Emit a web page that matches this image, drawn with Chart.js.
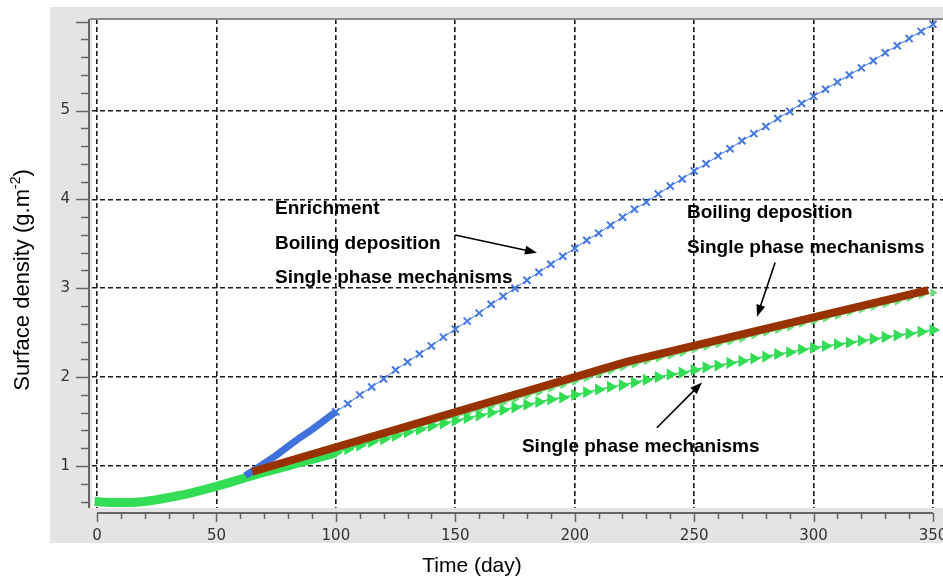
<!DOCTYPE html>
<html>
<head>
<meta charset="utf-8">
<script src="https://cdn.jsdelivr.net/npm/chart.js@4.4.0/dist/chart.umd.min.js"></script>
<style>
  body { margin: 0; overflow: hidden; background: #fff; }
  canvas { display: block; }
</style>
</head>
<body>
<canvas id="grafico" width="980" height="579"></canvas>
<script>
// eixos
const xTicks = [0, 50, 100, 150, 200, 250, 300, 350];
const yTicks = [1, 2, 3, 4, 5];

// parte densa das curvas (passos de tempo curtos)
const greenBandDays = [-1, 5, 10, 15, 20, 25, 30, 35, 40, 45, 50, 55, 60, 65, 70, 75, 80, 85, 90, 95, 100];
const singleBandValues = [0.60, 0.59, 0.59, 0.59, 0.60, 0.62, 0.645, 0.67, 0.70, 0.735, 0.77, 0.81, 0.85, 0.89, 0.93, 0.965, 1.00, 1.04, 1.075, 1.11, 1.15];

const blueBandDays = [62, 65, 70, 75, 80, 85, 90, 95, 100];
const enrichBandValues = [0.89, 0.94, 1.03, 1.12, 1.22, 1.32, 1.41, 1.51, 1.61];

// parte com marcadores (a cada 5 dias)
const markDays = [100, 105, 110, 115, 120, 125, 130, 135, 140, 145, 150, 155, 160, 165, 170, 175, 180, 185, 190, 195,
  200, 205, 210, 215, 220, 225, 230, 235, 240, 245, 250, 255, 260, 265, 270, 275, 280, 285, 290, 295,
  300, 305, 310, 315, 320, 325, 330, 335, 340, 345, 350];

const enrichValues = [1.61, 1.70, 1.80, 1.89, 1.98, 2.08, 2.17, 2.26, 2.35, 2.45, 2.54, 2.63, 2.72, 2.82, 2.91, 3.00, 3.09, 3.18, 3.27, 3.36,
  3.45, 3.54, 3.62, 3.71, 3.80, 3.89, 3.97, 4.06, 4.15, 4.23, 4.32, 4.40, 4.49, 4.57, 4.66, 4.74, 4.82, 4.91, 4.99, 5.08,
  5.16, 5.24, 5.32, 5.40, 5.48, 5.56, 5.65, 5.73, 5.81, 5.89, 5.97];

const boilingValues = [1.16, 1.20, 1.24, 1.28, 1.32, 1.36, 1.40, 1.44, 1.48, 1.52, 1.55, 1.59, 1.63, 1.67, 1.71, 1.75, 1.79, 1.83, 1.87, 1.91,
  1.95, 1.99, 2.03, 2.07, 2.11, 2.14, 2.18, 2.21, 2.24, 2.27, 2.31, 2.34, 2.37, 2.40, 2.43, 2.47, 2.50, 2.53, 2.56, 2.60,
  2.63, 2.66, 2.69, 2.73, 2.76, 2.79, 2.82, 2.85, 2.89, 2.92, 2.95];

const singleValues = [1.15, 1.19, 1.23, 1.27, 1.30, 1.34, 1.38, 1.41, 1.45, 1.48, 1.51, 1.54, 1.57, 1.60, 1.63, 1.66, 1.69, 1.72, 1.75, 1.77,
  1.80, 1.83, 1.86, 1.89, 1.91, 1.94, 1.97, 2.00, 2.03, 2.05, 2.08, 2.11, 2.13, 2.16, 2.18, 2.21, 2.23, 2.26, 2.28, 2.31,
  2.33, 2.35, 2.37, 2.39, 2.41, 2.43, 2.45, 2.47, 2.49, 2.51, 2.53];

// reta de ajuste marrom
const fitDays = [65, 222, 348];
const fitValues = [0.935, 2.175, 2.98];

const pares = (xs, ys) => xs.map((x, i) => ({ x: x, y: ys[i] }));

// textos e setas em coordenadas dos dados
const textos = [
  { x: 74.5, y: 3.83, t: 'Enrichment' },
  { x: 74.5, y: 3.445, t: 'Boiling deposition' },
  { x: 74.5, y: 3.06, t: 'Single phase mechanisms' },
  { x: 247, y: 3.79, t: 'Boiling deposition' },
  { x: 247, y: 3.40, t: 'Single phase mechanisms' },
  { x: 177.9, y: 1.16, t: 'Single phase mechanisms' }
];
const setas = [
  { x1: 149.9, y1: 3.60, x2: 184.2, y2: 3.40 },
  { x1: 283.9, y1: 3.29, x2: 276.3, y2: 2.68 },
  { x1: 234.4, y1: 1.43, x2: 253.3, y2: 1.94 }
];

const moldura = {
  id: 'moldura',
  beforeDraw(chart) {
    const ctx = chart.ctx;
    const a = chart.chartArea;
    ctx.save();
    ctx.fillStyle = '#ffffff';
    ctx.fillRect(0, 0, chart.width, chart.height);
    ctx.fillStyle = '#e4e4e4';
    ctx.fillRect(50, 7, chart.width - 50, 536);
    ctx.fillStyle = '#ffffff';
    ctx.fillRect(a.left, a.top, a.right - a.left, a.bottom - a.top);
    ctx.restore();
  },
  afterDraw(chart) {
    const ctx = chart.ctx;
    const a = chart.chartArea;
    const sx = chart.scales.x;
    const sy = chart.scales.y;
    ctx.save();
    // bordas e eixos
    ctx.strokeStyle = '#8a8a8a';
    ctx.lineWidth = 2;
    ctx.beginPath();
    ctx.moveTo(a.left - 2, a.top);
    ctx.lineTo(chart.width, a.top);
    ctx.stroke();
    ctx.strokeStyle = '#666';
    ctx.lineWidth = 2;
    ctx.beginPath();
    ctx.moveTo(a.left - 3, a.top);
    ctx.lineTo(a.left - 3, a.bottom);
    ctx.stroke();
    const yEixo = a.bottom + 5;
    ctx.beginPath();
    ctx.moveTo(sx.getPixelForValue(0), yEixo);
    ctx.lineTo(sx.getPixelForValue(350), yEixo);
    ctx.stroke();
    // marcas do eixo x
    ctx.lineWidth = 1.5;
    for (let v = 0; v <= 350; v += 10) {
      const px = Math.round(sx.getPixelForValue(v)) + 0.5;
      const len = v % 50 === 0 ? 9 : 6;
      ctx.beginPath();
      ctx.moveTo(px, yEixo);
      ctx.lineTo(px, yEixo + len);
      ctx.stroke();
    }
    // marcas do eixo y
    for (let k = 3; k <= 30; k++) {
      const v = k / 5;
      const py = Math.round(sy.getPixelForValue(v)) + 0.5;
      const len = k % 5 === 0 ? 13 : 8;
      ctx.beginPath();
      ctx.moveTo(a.left - 3, py);
      ctx.lineTo(a.left - 3 - len, py);
      ctx.stroke();
    }
    // titulos
    ctx.fillStyle = '#000';
    ctx.font = '21px "Liberation Sans", Arial, sans-serif';
    ctx.textAlign = 'center';
    ctx.textBaseline = 'middle';
    ctx.fillText('Time (day)', 472, 566);

    ctx.translate(23, 280);
    ctx.rotate(-Math.PI / 2);
    ctx.textAlign = 'left';
    const p1 = 'Surface density (g.m', p2 = '-2', p3 = ')';
    ctx.font = '22px "Liberation Sans", Arial, sans-serif';
    const w1 = ctx.measureText(p1).width, w3 = ctx.measureText(p3).width;
    ctx.font = '14px "Liberation Sans", Arial, sans-serif';
    const w2 = ctx.measureText(p2).width;
    let x0 = -(w1 + w2 + w3) / 2;
    ctx.font = '22px "Liberation Sans", Arial, sans-serif';
    ctx.fillText(p1, x0, 0);
    ctx.font = '14px "Liberation Sans", Arial, sans-serif';
    ctx.fillText(p2, x0 + w1, -7);
    ctx.font = '22px "Liberation Sans", Arial, sans-serif';
    ctx.fillText(p3, x0 + w1 + w2, 0);
    ctx.restore();

    // anotacoes
    ctx.save();
    ctx.fillStyle = '#000';
    ctx.strokeStyle = '#000';
    ctx.font = 'bold 19px "Liberation Sans", Arial, sans-serif';
    ctx.textAlign = 'left';
    ctx.textBaseline = 'alphabetic';
    textos.forEach(t => {
      ctx.fillText(t.t, sx.getPixelForValue(t.x), sy.getPixelForValue(t.y));
    });
    ctx.lineWidth = 1.6;
    setas.forEach(s => {
      const x1 = sx.getPixelForValue(s.x1), y1 = sy.getPixelForValue(s.y1);
      const x2 = sx.getPixelForValue(s.x2), y2 = sy.getPixelForValue(s.y2);
      const ang = Math.atan2(y2 - y1, x2 - x1);
      ctx.beginPath();
      ctx.moveTo(x1, y1);
      ctx.lineTo(x2 - 8 * Math.cos(ang), y2 - 8 * Math.sin(ang));
      ctx.stroke();
      ctx.beginPath();
      ctx.moveTo(x2, y2);
      ctx.lineTo(x2 - 12 * Math.cos(ang) + 4.5 * Math.sin(ang), y2 - 12 * Math.sin(ang) - 4.5 * Math.cos(ang));
      ctx.lineTo(x2 - 12 * Math.cos(ang) - 4.5 * Math.sin(ang), y2 - 12 * Math.sin(ang) + 4.5 * Math.cos(ang));
      ctx.closePath();
      ctx.fill();
    });
    ctx.restore();
  }
};

const fonteTicks = { family: '"DejaVu Sans", sans-serif', size: 15 };

new Chart(document.getElementById('grafico'), {
  type: 'line',
  data: {
    datasets: [
      {
        label: 'Ajuste',
        data: pares(fitDays, fitValues),
        borderColor: '#983200',
        borderWidth: 8,
        pointRadius: 0,
        borderCapStyle: 'butt',
        order: 0
      },
      {
        label: 'Boiling + single phase',
        data: pares(markDays, boilingValues),
        borderColor: '#6ae07a',
        backgroundColor: '#6ae07a',
        borderWidth: 1,
        pointStyle: 'triangle',
        rotation: 90,
        pointRadius: 4,
        order: 5
      },
      {
        label: 'Enrichment (dense)',
        data: pares(blueBandDays, enrichBandValues),
        borderColor: '#3f72dc',
        borderWidth: 7,
        pointRadius: 0,
        order: 2
      },
      {
        label: 'Enrichment',
        data: pares(markDays, enrichValues),
        borderColor: '#4479e2',
        backgroundColor: '#4479e2',
        borderWidth: 1,
        pointStyle: 'crossRot',
        pointRadius: 5,
        pointBorderWidth: 2,
        order: 2
      },
      {
        label: 'Single phase (dense)',
        data: pares(greenBandDays, singleBandValues),
        borderColor: '#33dd55',
        borderWidth: 9,
        pointRadius: 0,
        order: 4
      },
      {
        label: 'Single phase',
        data: pares(markDays, singleValues),
        borderColor: '#33dd55',
        backgroundColor: '#33dd55',
        borderWidth: 1.5,
        pointStyle: 'triangle',
        rotation: 90,
        pointRadius: 5.5,
        order: 4
      }
    ]
  },
  options: {
    responsive: false,
    animation: false,
    layout: { padding: { top: 19, right: 20, left: 0, bottom: 0 } },
    plugins: { legend: { display: false }, tooltip: { enabled: false } },
    scales: {
      x: {
        type: 'linear',
        min: -2.1,
        max: 361.3,
        afterBuildTicks: s => { s.ticks = xTicks.map(v => ({ value: v })); },
        afterFit: s => { s.height = 71; s.paddingLeft = 0; s.paddingRight = 0; s.paddingTop = 0; s.paddingBottom = 0; },
        ticks: { font: fonteTicks, color: '#333', padding: 19, maxRotation: 0 },
        grid: { color: '#1a1a1a', lineWidth: 1.6, drawTicks: false, borderDash: [5, 3] },
        border: { display: false, dash: [5, 3] }
      },
      y: {
        min: 0.527,
        max: 6.03,
        afterBuildTicks: s => { s.ticks = yTicks.map(v => ({ value: v })); },
        afterFit: s => { s.width = 92; s.paddingLeft = 0; s.paddingRight = 0; s.paddingTop = 0; s.paddingBottom = 0; },
        ticks: { font: fonteTicks, color: '#333', padding: 22 },
        grid: { color: '#1a1a1a', lineWidth: 1.6, drawTicks: false, borderDash: [5, 3] },
        border: { display: false, dash: [5, 3] }
      }
    }
  },
  plugins: [moldura]
});
</script>
</body>
</html>
